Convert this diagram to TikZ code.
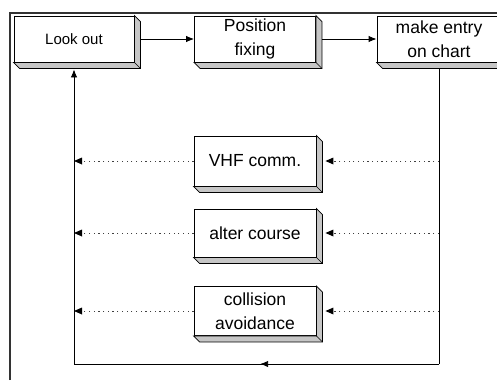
\documentclass[tikz,border=0pt]{standalone}
\usepackage{fontspec}
\setmainfont{Liberation Sans}
\usetikzlibrary{arrows.meta,calc,decorations.markings}
\tikzset{
  face/.style={draw=black, line width=0.9pt, fill=white, inner sep=0pt, align=center,
    font=\fontsize{17.5}{23.5}\selectfont},
  bevel/.style={draw=black, line width=0.7pt, fill=gray!45},
  conn/.style={line width=0.9pt, draw=black},
  dots/.style={line width=0.8pt, draw=black!75, dash pattern=on 1.2pt off 3.5pt},
  tip/.style={-{Latex[length=8pt,width=6.5pt]}},
  frame/.style={line width=1.2pt, draw=black!80},
}
\newcommand{\bevelbox}[1]{%
  \filldraw[bevel] (#1.north east) -- ([shift={(6,6)}]#1.north east) -- ([shift={(6,6)}]#1.south east)
    -- ([shift={(6,6)}]#1.south west) -- (#1.south west) -- (#1.south east) -- cycle;
  \draw[bevel, fill=none] (#1.south east) -- ([shift={(6,6)}]#1.south east);
}
\begin{document}
\begin{tikzpicture}[x=1pt,y=-1pt]
\useasboundingbox (0,0) rectangle (497,380);
\begin{scope}
\clip (0,0) rectangle (497,380);
% frame
\draw[frame] (10,380) -- (10,13) -- (497,13);
% top row
\node[face, minimum width=120pt, minimum height=46pt, font=\fontsize{15}{20}\selectfont] (look) at (74,39) {Look out};
\node[face, minimum width=121pt, minimum height=46pt] (pos) at (255,39) {Position\\fixing};
\node[face, minimum width=124pt, minimum height=46pt] (entry) at (439,39) {make entry\\on chart};
\bevelbox{look}
\bevelbox{pos}
\bevelbox{entry}
% middle column
\node[face, minimum width=122pt, minimum height=50pt] (vhf) at (255,161) {VHF comm.};
\node[face, minimum width=122pt, minimum height=48pt] (alter) at (255,233) {alter course};
\node[face, minimum width=122pt, minimum height=49pt] (coll) at (255,311) {collision\\avoidance};
\bevelbox{vhf}
\bevelbox{alter}
\bevelbox{coll}
% loop coordinates
\coordinate (br) at (439,364);
\coordinate (bl) at (look |- br);
\coordinate (lookin) at ([shift={(0,7)}]look.south);
% top arrows
\draw[conn, tip] ([xshift=6pt]look.east) -- (pos.west);
\draw[conn, tip] ([xshift=6pt]pos.east) -- (entry.west);
% feedback loop
\draw[conn] ([shift={(0,6)}]entry.south) -- (br);
\draw[conn, postaction={decorate}, decoration={markings, mark=at position 0.49 with {\arrow{Latex[length=8pt,width=6.5pt]}}}] (br) -- (bl);
\draw[conn, tip] (bl) -- (lookin);
% dotted arrows into the middle boxes
\foreach \b in {vhf,alter,coll} {
  \coordinate (r\b) at (br |- \b.east);
  \coordinate (l\b) at (bl |- \b.west);
  \draw[dots] (r\b) -- ([xshift=11pt]\b.east);
  \fill ([xshift=9pt]\b.east) -- ++(8,-3.5) -- ++(0,7) -- cycle;
  \draw[dots] (\b.west) -- ([xshift=6pt]l\b);
  \fill (l\b) -- ++(8,-3.5) -- ++(0,7) -- cycle;
}
\end{scope}
\end{tikzpicture}
\end{document}
